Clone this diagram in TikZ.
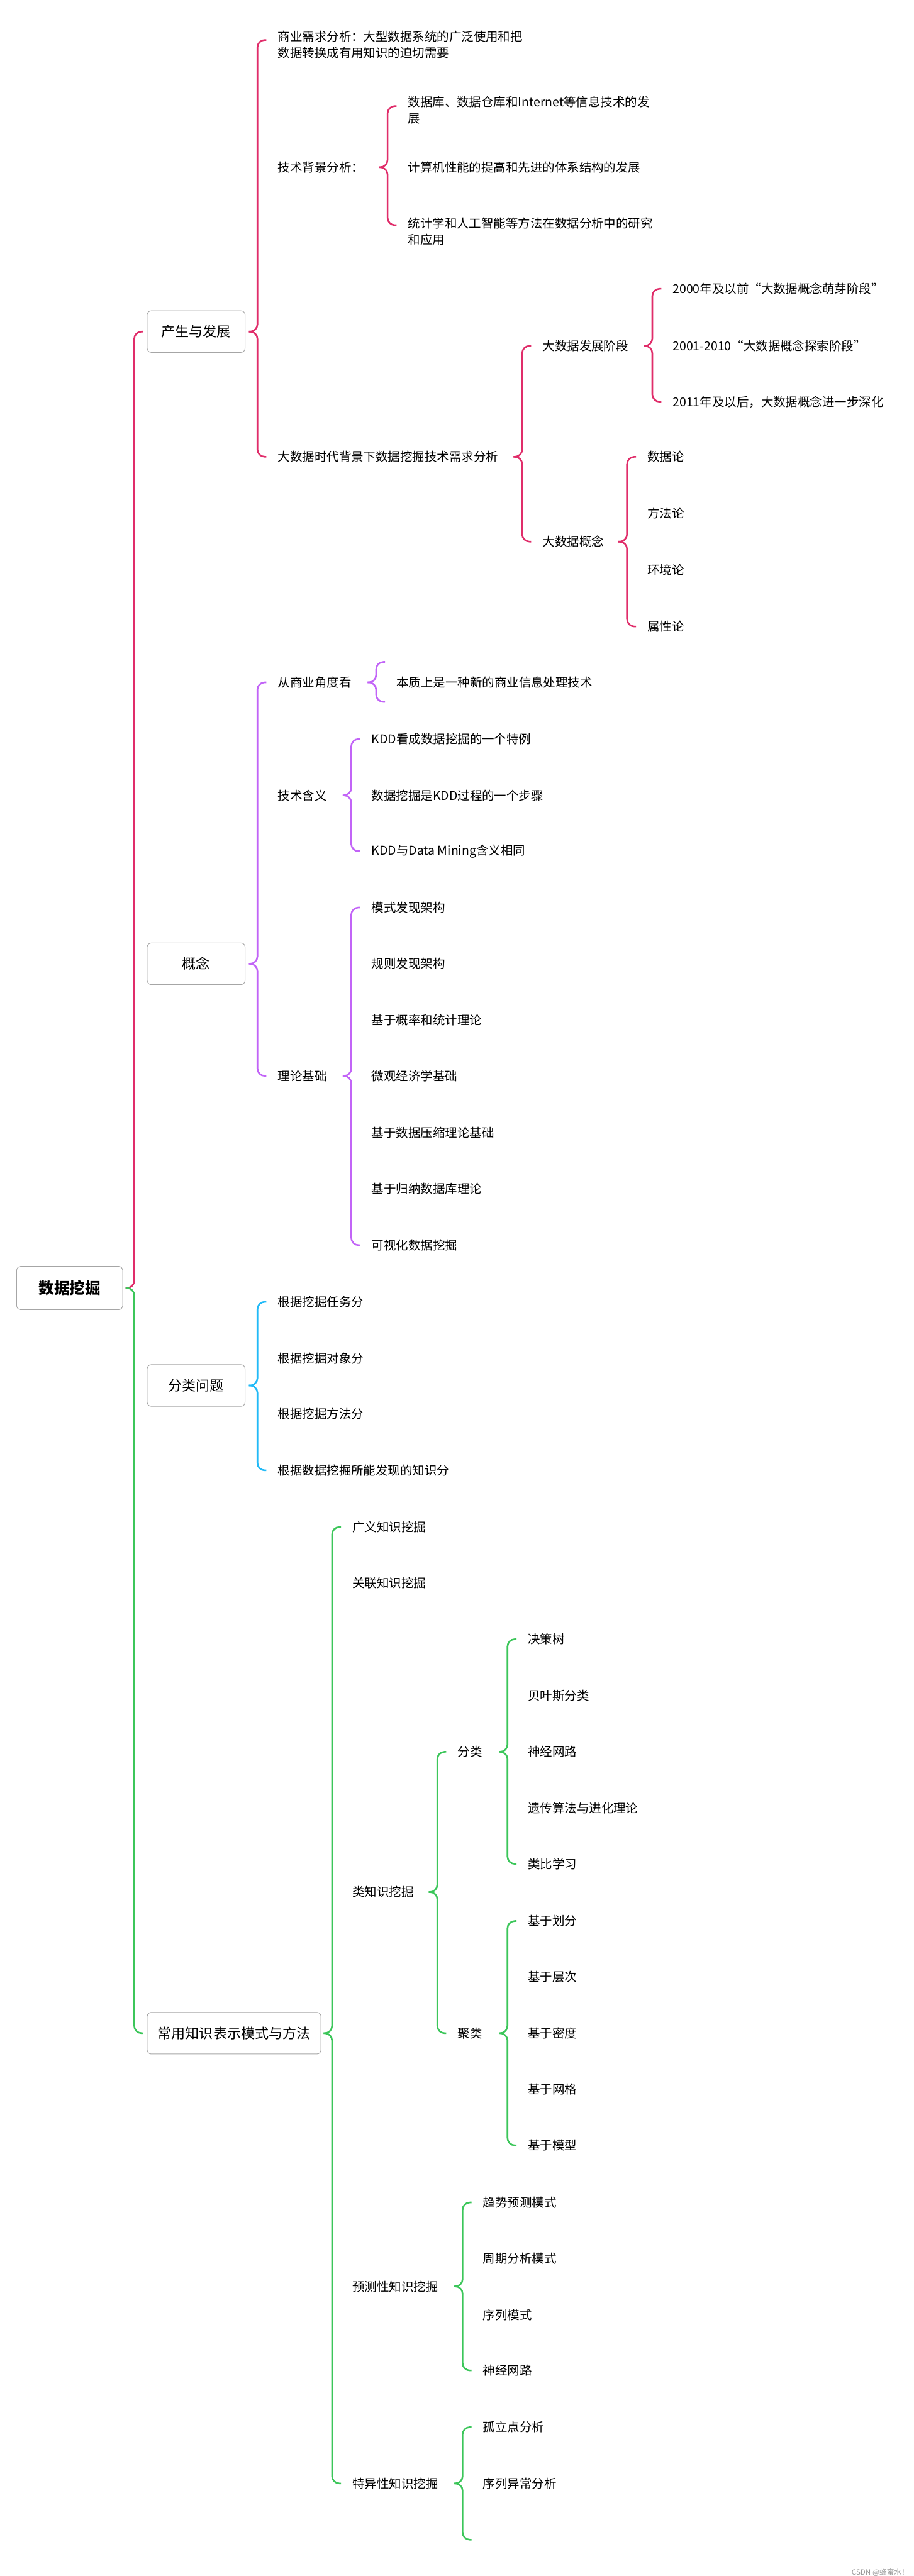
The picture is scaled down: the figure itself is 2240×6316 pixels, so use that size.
\documentclass[tikz,border=0pt]{standalone}
\usepackage{fontspec}
\setmainfont{Noto Sans CJK SC}
\definecolor{hong}{HTML}{E02D6A}
\definecolor{zi}{HTML}{C264F7}
\definecolor{lan}{HTML}{22BAF7}
\definecolor{lv}{HTML}{3CC65A}
% one half of a brace: tip beside the parent, hook at the child
\newcommand{\zhi}[4][50]{\draw[#2] ([xshift=-#1pt-21pt]#4.180 |- #3) -- ([xshift=-#1pt]#4.180 |- #3) |- ([xshift=-#1pt+22pt]#4.180);}

\begin{document}
\begin{tikzpicture}[x=1pt,y=1pt,
    wz/.style={anchor=west,inner sep=0pt,align=left,font=\fontsize{30pt}{40pt}\selectfont},
    kuang/.style={draw=gray!70,line width=1.5pt,rounded corners=10pt,fill=white,anchor=west,
      minimum width=240pt,minimum height=102pt,inner xsep=26pt,font=\fontsize{34pt}{40pt}\selectfont},
    xian/.style={line width=4pt,rounded corners=18pt},
    lnR/.style={xian,draw=hong},
    lnP/.style={xian,draw=zi},
    lnB/.style={xian,draw=lan},
    lnG/.style={xian,draw=lv}]
  \useasboundingbox (0,0) rectangle (2240,-6316);

  \node[kuang,minimum width=260pt,minimum height=106pt,font=\fontsize{38pt}{44pt}\selectfont\bfseries] (gen) at (40,-3158) {数据挖掘};
  \node[kuang] (b1) at (360,-813) {产生与发展};
  \node[kuang] (b2) at (360,-2363) {概念};
  \node[kuang] (b3) at (360,-3397) {分类问题};
  \node[kuang] (b4) at (360,-4985) {常用知识表示模式与方法};

  % 产生与发展
  \node[wz,anchor=north west] (a1) at (681,-76) {商业需求分析：大型数据系统的广泛使用和把\\数据转换成有用知识的迫切需要};
  \coordinate (a1h) at (681,-98);
  \node[wz] (a2) at (681,-410) {技术背景分析：};
  \node[wz] (a3) at (681,-1120) {大数据时代背景下数据挖掘技术需求分析};
  \node[wz,anchor=north west] (a21) at (1000,-235) {数据库、数据仓库和Internet等信息技术的发\\展};
  \coordinate (a21h) at (1000,-260);
  \node[wz] (a22) at (1000,-410) {计算机性能的提高和先进的体系结构的发展};
  \node[wz,anchor=north west] (a23) at (1000,-533) {统计学和人工智能等方法在数据分析中的研究\\和应用};
  \coordinate (a23h) at (1000,-552);
  \node[wz] (a31) at (1330,-848) {大数据发展阶段};
  \node[wz] (a32) at (1330,-1328) {大数据概念};
  \node[wz] (a311) at (1649,-708) {2000年及以前“大数据概念萌芽阶段”};
  \node[wz] (a312) at (1649,-848) {2001-2010“大数据概念探索阶段”};
  \node[wz] (a313) at (1649,-985) {2011年及以后，大数据概念进一步深化};
  \node[wz] (a321) at (1587,-1120) {数据论};
  \node[wz] (a322) at (1587,-1259) {方法论};
  \node[wz] (a323) at (1587,-1397) {环境论};
  \node[wz] (a324) at (1587,-1536) {属性论};

  \zhi[31]{lnR}{gen}{b1}
  \zhi{lnR}{b1}{a1h} \zhi{lnR}{b1}{a3}
  \zhi{lnR}{a2}{a21h} \zhi{lnR}{a2}{a23h}
  \zhi{lnR}{a3}{a31} \zhi{lnR}{a3}{a32}
  \zhi{lnR}{a31}{a311} \zhi{lnR}{a31}{a313}
  \zhi{lnR}{a32}{a321} \zhi{lnR}{a32}{a324}

  % 概念
  \node[wz] (c1) at (681,-1673) {从商业角度看};
  \node[wz] (c2) at (681,-1950) {技术含义};
  \node[wz] (c3) at (681,-2638) {理论基础};
  \node[wz] (c11) at (972,-1673) {本质上是一种新的商业信息处理技术};
  \coordinate (bz1) at (972,-1623);
  \coordinate (bz2) at (972,-1721);
  \node[wz] (c21) at (911,-1812) {KDD看成数据挖掘的一个特例};
  \node[wz] (c22) at (911,-1950) {数据挖掘是KDD过程的一个步骤};
  \node[wz] (c23) at (911,-2087) {KDD与Data Mining含义相同};
  \node[wz] (c31) at (911,-2225) {模式发现架构};
  \node[wz] (c32) at (911,-2363) {规则发现架构};
  \node[wz] (c33) at (911,-2501) {基于概率和统计理论};
  \node[wz] (c34) at (911,-2639) {微观经济学基础};
  \node[wz] (c35) at (911,-2777) {基于数据压缩理论基础};
  \node[wz] (c36) at (911,-2915) {基于归纳数据库理论};
  \node[wz] (c37) at (911,-3053) {可视化数据挖掘};

  \zhi{lnP}{b2}{c1} \zhi{lnP}{b2}{c3}
  \zhi{lnP}{c1}{bz1} \zhi{lnP}{c1}{bz2}
  \zhi{lnP}{c2}{c21} \zhi{lnP}{c2}{c23}
  \zhi{lnP}{c3}{c31} \zhi{lnP}{c3}{c37}

  % 分类问题
  \node[wz] (e1) at (681,-3192) {根据挖掘任务分};
  \node[wz] (e2) at (681,-3330) {根据挖掘对象分};
  \node[wz] (e3) at (681,-3467) {根据挖掘方法分};
  \node[wz] (e4) at (681,-3605) {根据数据挖掘所能发现的知识分};
  \zhi{lnB}{b3}{e1} \zhi{lnB}{b3}{e4}

  % 常用知识表示模式与方法
  \node[wz] (d1) at (864,-3744) {广义知识挖掘};
  \node[wz] (d2) at (864,-3882) {关联知识挖掘};
  \node[wz] (d3) at (864,-4639) {类知识挖掘};
  \node[wz] (d4) at (864,-5606) {预测性知识挖掘};
  \node[wz] (d5) at (864,-6089) {特异性知识挖掘};
  \node[wz] (d31) at (1122,-4295) {分类};
  \node[wz] (d32) at (1122,-4985) {聚类};
  \node[wz] (d311) at (1294,-4019) {决策树};
  \node[wz] (d312) at (1294,-4157) {贝叶斯分类};
  \node[wz] (d313) at (1294,-4295) {神经网路};
  \node[wz] (d314) at (1294,-4433) {遗传算法与进化理论};
  \node[wz] (d315) at (1294,-4570) {类比学习};
  \node[wz] (d321) at (1294,-4710) {基于划分};
  \node[wz] (d322) at (1294,-4846) {基于层次};
  \node[wz] (d323) at (1294,-4985) {基于密度};
  \node[wz] (d324) at (1294,-5123) {基于网格};
  \node[wz] (d325) at (1294,-5260) {基于模型};
  \node[wz] (d41) at (1184,-5400) {趋势预测模式};
  \node[wz] (d42) at (1184,-5537) {周期分析模式};
  \node[wz] (d43) at (1184,-5676) {序列模式};
  \node[wz] (d44) at (1184,-5812) {神经网路};
  \node[wz] (d51) at (1184,-5951) {孤立点分析};
  \node[wz] (d52) at (1184,-6089) {序列异常分析};
  \coordinate (d53) at (1184,-6227);

  \zhi[31]{lnG}{gen}{b4}
  \zhi{lnG}{b4}{d1} \zhi{lnG}{b4}{d5}
  \zhi{lnG}{d3}{d31} \zhi{lnG}{d3}{d32}
  \zhi{lnG}{d31}{d311} \zhi{lnG}{d31}{d315}
  \zhi{lnG}{d32}{d321} \zhi{lnG}{d32}{d325}
  \zhi{lnG}{d4}{d41} \zhi{lnG}{d4}{d44}
  \zhi{lnG}{d5}{d51} \zhi{lnG}{d5}{d53}

  \node[anchor=east,inner sep=0pt,text=gray!80,font=\fontsize{18pt}{20pt}\selectfont] (sy) at (2228,-6308) {CSDN @蜂蜜水！};
\end{tikzpicture}
\end{document}
